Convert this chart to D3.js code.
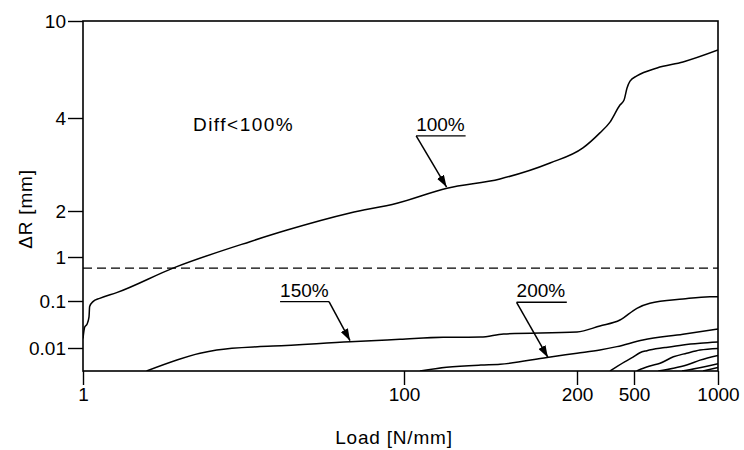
<!DOCTYPE html>
<html>
<head>
<meta charset="utf-8">
<script src="https://cdn.jsdelivr.net/npm/d3@7"></script>
<style>
  body { margin: 0; background: #fff; }
  svg text { font-family: Arial, "Liberation Sans", sans-serif; fill: #000; }
</style>
</head>
<body>
<div id="chart"></div>
<script>
// axis breaks (the original figure uses a stretched, piecewise log axis)
var xTicks = [1, 100, 200, 500, 1000];
var yTicks = [0.01, 0.1, 1, 2, 4, 10];
var yBottom = 0.003;
var threshold = 0.56;

// curves: [load, deltaR]
var curve100 = [[1, 0.016], [1.025, 0.028], [1.059, 0.032], [1.09, 0.046], [1.10, 0.076], [1.154, 0.097],
  [1.27, 0.115], [1.62, 0.155], [3.64, 0.56], [10.98, 1.26], [18.7, 1.50], [46.1, 1.94], [90.4, 2.12],
  [118.8, 2.37], [146.9, 2.54], [179.5, 2.86], [220, 3.2], [289, 3.58], [340, 3.88], [399, 4.52],
  [426, 4.74], [447, 5.31], [469, 5.67], [512, 5.95], [605, 6.42], [749, 6.79], [1000, 7.6]];
var curve150 = [[2.49, 0.003], [5.36, 0.0076], [6.81, 0.009], [12.7, 0.0107], [15.3, 0.011], [46.1, 0.0136],
  [94.4, 0.0153], [117, 0.0169], [136, 0.0171], [149, 0.0199], [200, 0.0219], [289, 0.0294], [399, 0.0394],
  [512, 0.0699], [570, 0.0893], [749, 0.111], [936, 0.125], [1000, 0.125]];
var curve200 = [[106.6, 0.003], [118.6, 0.00364], [136, 0.0041], [147, 0.00426], [177.4, 0.0061],
  [200, 0.0076], [289, 0.009], [380, 0.0107], [538, 0.0148], [749, 0.0196], [1000, 0.0254]];
var curveA = [[340, 0.003], [433, 0.0049], [492, 0.0062], [525, 0.0078], [556, 0.0087], [646, 0.0102],
  [749, 0.0116], [862, 0.0126], [1000, 0.0134]];
var curveB = [[511, 0.003], [540, 0.00346], [570, 0.0039], [620, 0.0045], [692, 0.0063], [772, 0.0076],
  [862, 0.009], [1000, 0.0098]];
var curveC = [[611, 0.003], [692, 0.00346], [772, 0.0041], [862, 0.0053], [1000, 0.0068]];
var curveD = [[743, 0.003], [841, 0.00346], [1000, 0.0044]];
var curveE = [[884, 0.003], [1000, 0.0036]];
var curves = [curve100, curve150, curve200, curveA, curveB, curveC, curveD, curveE];

// labels with underline (x0..x1 at y) and arrow (from -> tip), data coords
var callouts = [
  {text: "100%", x0: 105, x1: 128, y: 3.5, from: [105, 3.5], tip: [118.6, 2.39]},
  {text: "150%", x0: 16.9, x1: 34.1, y: 0.097, from: [34.1, 0.097], tip: [46.1, 0.0143]},
  {text: "200%", x0: 157, x1: 192, y: 0.094, from: [157, 0.094], tip: [178, 0.0061]}
];

var width = 744, height = 450;
var svg = d3.select("#chart").append("svg")
    .attr("width", width)
    .attr("height", height);

var x = d3.scaleLog().domain(xTicks).range([83, 404, 577, 634, 718]);
var y = d3.scaleLog().domain([yBottom].concat(yTicks)).range([371, 348, 301, 257, 211, 118, 21]);

var fmt = function (d) { return String(d); };

svg.append("defs").append("clipPath").attr("id", "plot")
  .append("rect")
    .attr("x", x(1)).attr("y", y(10))
    .attr("width", x(1000) - x(1)).attr("height", y(yBottom) - y(10));

var arrow = svg.select("defs").append("marker")
    .attr("id", "arrow")
    .attr("markerUnits", "userSpaceOnUse")
    .attr("viewBox", "0 0 12 8")
    .attr("refX", 12).attr("refY", 4)
    .attr("markerWidth", 12).attr("markerHeight", 8)
    .attr("orient", "auto");
arrow.append("path").attr("d", "M0,0L12,4L0,8Z").attr("fill", "#000");

// axes
var xAxis = svg.append("g")
    .attr("transform", "translate(0," + y(yBottom) + ")")
    .call(d3.axisBottom(x).tickValues(xTicks).tickFormat(fmt).tickSize(14).tickPadding(3));
var yAxis = svg.append("g")
    .attr("transform", "translate(" + x(1) + ",0)")
    .call(d3.axisLeft(y).tickValues(yTicks).tickFormat(fmt).tickSize(15).tickPadding(2));
[xAxis, yAxis].forEach(function (g) {
    g.select(".domain").remove();
    g.selectAll(".tick line").attr("stroke", "#000").attr("stroke-width", 1.4);
    g.selectAll(".tick text").style("font-size", "19px").attr("fill", "#000");
});

// frame
svg.append("rect")
    .attr("x", x(1)).attr("y", y(10))
    .attr("width", x(1000) - x(1)).attr("height", y(yBottom) - y(10))
    .attr("fill", "none").attr("stroke", "#000").attr("stroke-width", 1.6);

// threshold dashed line
svg.append("line")
    .attr("x1", x(1)).attr("x2", x(1000))
    .attr("y1", y(threshold)).attr("y2", y(threshold))
    .attr("stroke", "#000").attr("stroke-width", 1.4)
    .attr("stroke-dasharray", "9,5");

var line = d3.line()
    .x(function (d) { return x(d[0]); })
    .y(function (d) { return y(d[1]); })
    .curve(d3.curveMonotoneX);

svg.append("g").attr("clip-path", "url(#plot)")
  .selectAll("path").data(curves).enter()
  .append("path")
    .attr("d", line)
    .attr("fill", "none")
    .attr("stroke", "#000")
    .attr("stroke-width", 1.5);

// callouts
var co = svg.append("g").selectAll("g").data(callouts).enter().append("g");
co.append("text")
    .attr("x", function (d) { return x(d.x0); })
    .attr("y", function (d) { return y(d.y) - 5; })
    .style("font-size", "19px")
    .text(function (d) { return d.text; });
co.append("line")
    .attr("x1", function (d) { return x(d.x0); })
    .attr("x2", function (d) { return x(d.x1); })
    .attr("y1", function (d) { return y(d.y); })
    .attr("y2", function (d) { return y(d.y); })
    .attr("stroke", "#000").attr("stroke-width", 1.3);
co.append("line")
    .attr("x1", function (d) { return x(d.from[0]); })
    .attr("y1", function (d) { return y(d.from[1]); })
    .attr("x2", function (d) { return x(d.tip[0]); })
    .attr("y2", function (d) { return y(d.tip[1]); })
    .attr("stroke", "#000").attr("stroke-width", 1.5)
    .attr("marker-end", "url(#arrow)");

svg.append("text")
    .attr("x", x(4.84)).attr("y", y(3.63))
    .style("font-size", "19px")
    .style("letter-spacing", "1.5px")
    .text("Diff<100%");

// axis titles
svg.append("text")
    .attr("x", 394).attr("y", 444)
    .attr("text-anchor", "middle")
    .style("font-size", "19px")
    .style("letter-spacing", "0.8px")
    .text("Load [N/mm]");
svg.append("text")
    .attr("transform", "translate(32,209) rotate(-90)")
    .attr("text-anchor", "middle")
    .style("font-size", "19px")
    .style("letter-spacing", "0.8px")
    .text("ΔR [mm]");
</script>
</body>
</html>
